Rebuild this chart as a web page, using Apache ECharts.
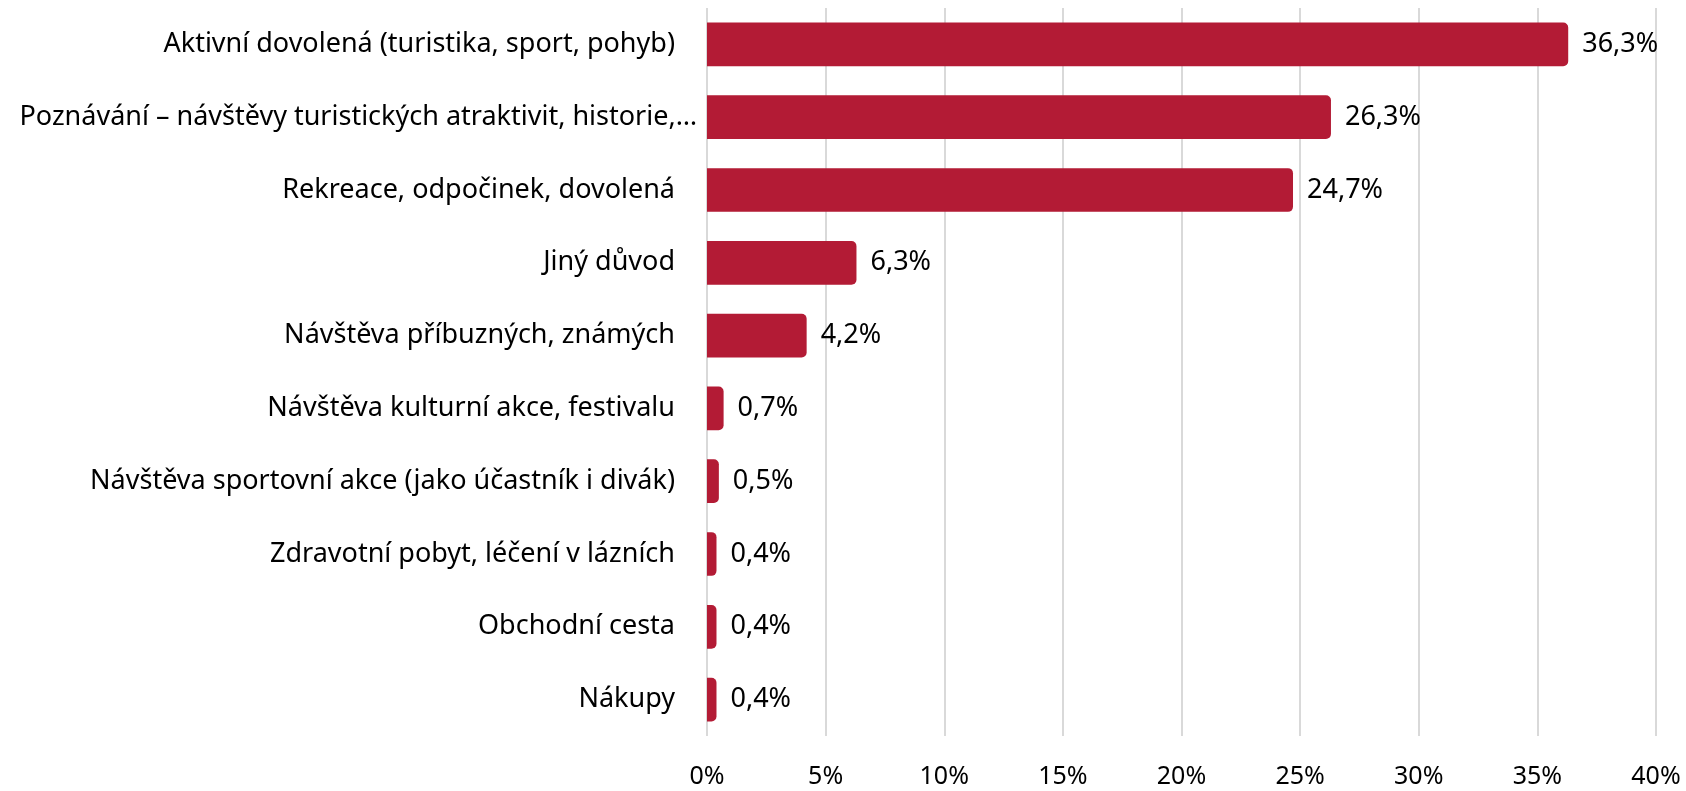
<!DOCTYPE html>
<html>
<head>
<meta charset="utf-8">
<script src="https://cdn.jsdelivr.net/npm/echarts@6/dist/echarts.min.js"></script>
<style>
  html, body { margin: 0; padding: 0; background: #ffffff; }
  #chart { width: 1686px; height: 791px; }
</style>
</head>
<body>
<div id="chart"></div>
<script>
  // kategorie (shora dolů)
  const categories = [
    'Aktivní dovolená (turistika, sport, pohyb)',
    'Poznávání – návštěvy turistických atraktivit, historie,…',
    'Rekreace, odpočinek, dovolená',
    'Jiný důvod',
    'Návštěva příbuzných, známých',
    'Návštěva kulturní akce, festivalu',
    'Návštěva sportovní akce (jako účastník i divák)',
    'Zdravotní pobyt, léčení v lázních',
    'Obchodní cesta',
    'Nákupy'
  ]
  // podíl v %
  const shares = [36.3, 26.3, 24.7, 6.3, 4.2, 0.7, 0.5, 0.4, 0.4, 0.4]
  const xTicks = [0, 5, 10, 15, 20, 25, 30, 35, 40]

  const chart = echarts.init(document.getElementById('chart'))
  const font = 'Noto Sans'

  // zkrácený popisek sahá v originále blíž k ose
  const catData = categories.map(c => c.endsWith('…')
    ? { value: c, textStyle: { padding: [0, -22, 0, 0] } }
    : c)

  let option = {
    animation: false,
    grid: {
      left: 707,
      right: 30,
      top: 8,
      bottom: 55,
      containLabel: false,
      outerBoundsMode: 'none'
    },
    xAxis: {
      type: 'value',
      min: xTicks[0],
      max: xTicks[xTicks.length - 1],
      interval: 5,
      axisLine: { show: false },
      axisTick: { show: false },
      splitLine: { lineStyle: { color: '#d9d9d9', width: 2 } },
      axisLabel: {
        margin: 28,
        color: '#000000',
        fontFamily: font,
        fontSize: 25,
        formatter: v => v + '%'
      }
    },
    yAxis: {
      type: 'category',
      inverse: true,
      data: catData,
      axisLine: { show: false },
      axisTick: { show: false },
      axisLabel: {
        margin: 32,
        color: '#000000',
        fontFamily: font,
        fontSize: 27
      }
    },
    series: [
      {
        type: 'bar',
        data: shares,
        barCategoryGap: '40%',
        itemStyle: {
          color: '#b31b35',
          borderRadius: [0, 5, 5, 0]
        },
        label: {
          show: true,
          position: 'right',
          distance: 14,
          color: '#000000',
          fontFamily: font,
          fontSize: 27,
          formatter: p => p.value.toFixed(1).replace('.', ',') + '%'
        }
      }
    ]
  }
  chart.setOption(option)
</script>
</body>
</html>
